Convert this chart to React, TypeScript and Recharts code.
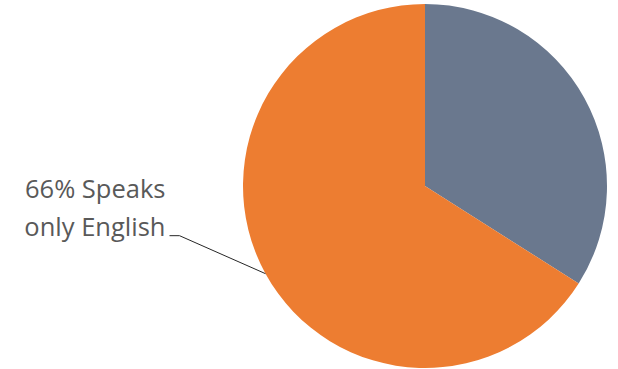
import { Cell, Pie, PieChart } from "recharts";

const categories = ["Speaks another language", "Speaks only English"];
const shares = [34, 66];
const sliceColors = ["#6A788E", "#ED7D31"];
const labelLines = ["66% Speaks", "only English"];

const data = categories.map((name, i) => ({ name, value: shares[i] }));

const RADIAN = Math.PI / 180;

function renderLabel(props: any) {
  const { cx, cy, midAngle, outerRadius, index } = props;
  if (index !== 1) return null;
  const sx = cx + outerRadius * Math.cos(-midAngle * RADIAN);
  const sy = cy + outerRadius * Math.sin(-midAngle * RADIAN);
  const ey = sy - 38;
  const mx = sx - 86;
  const ex = mx - 10;
  return (
    <g>
      <polyline
        points={`${sx},${sy} ${mx},${ey} ${ex},${ey}`}
        fill="none"
        stroke="#262626"
        strokeWidth={1}
      />
      <text
        x={ex - 4}
        y={ey - 38}
        textAnchor="end"
        fill="#595959"
        fontSize={25.5}
        fontFamily="Open Sans, sans-serif"
      >
        {labelLines[0]}
      </text>
      <text
        x={ex - 4}
        y={ey}
        textAnchor="end"
        fill="#595959"
        fontSize={25.5}
        fontFamily="Open Sans, sans-serif"
      >
        {labelLines[1]}
      </text>
    </g>
  );
}

export default function App() {
  return (
    <div style={{ position: "absolute", left: 0, top: 0, background: "#fff" }}>
      <PieChart width={618} height={369} margin={{ top: 0, right: 0, bottom: 0, left: 0 }}>
        <Pie
          data={data}
          dataKey="value"
          nameKey="name"
          cx={425}
          cy={186}
          outerRadius={182}
          startAngle={90}
          endAngle={-270}
          stroke="none"
          label={renderLabel}
          labelLine={false}
          isAnimationActive={false}
        >
          {data.map((d, i) => (
            <Cell key={d.name} fill={sliceColors[i]} />
          ))}
        </Pie>
      </PieChart>
    </div>
  );
}
